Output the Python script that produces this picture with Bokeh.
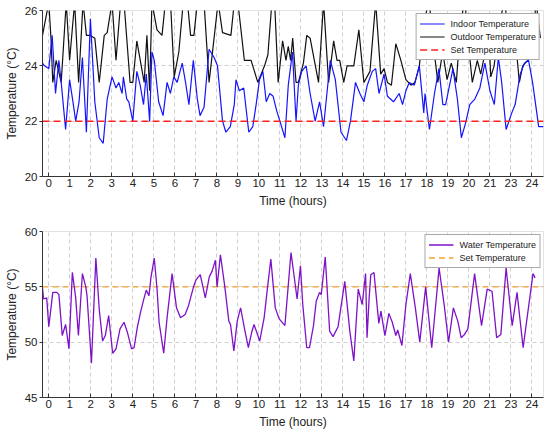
from bokeh.plotting import figure
from bokeh.layouts import column
from bokeh.models import FixedTicker, Legend, LegendItem, Range1d
from bokeh.embed import file_html
from bokeh.resources import INLINE

# ---- tick labels (x ticks at positions 0..23) ----
x_tick_pos = list(range(24))
x_tick_labels = ["0", "1", "2", "3", "4", "5", "6", "7", "8", "9", "10", "11", "12",
                 "13", "14", "15", "16", "17", "18", "19", "20", "21", "23", "24"]

# ---- indoor temperature ----
indoor_t = [-0.3, -0.21, 0.0, 0.16, 0.32, 0.48, 0.59, 0.8, 0.99, 1.15, 1.28, 1.44, 1.6, 1.79,
            1.98, 2.19, 2.4, 2.59, 2.78, 3.01, 3.2, 3.33, 3.49, 3.55, 3.71, 3.81, 4.0, 4.19,
            4.35, 4.51, 4.64, 4.8, 4.91, 5.02, 5.23, 5.44, 5.63, 5.79, 5.95, 6.11, 6.35, 6.51,
            6.67, 6.88, 7.07, 7.2, 7.39, 7.63, 7.87, 8.03, 8.27, 8.43, 8.64, 8.83, 8.91, 9.07,
            9.28, 9.52, 9.71, 9.87, 10.03, 10.19, 10.35, 10.52, 10.68, 10.84, 11.08, 11.24,
            11.4, 11.6, 11.77, 11.88, 12.04, 12.25, 12.44, 12.68, 12.89, 13.08, 13.4, 13.64,
            13.91, 14.17, 14.36, 14.6, 14.81, 15.0, 15.16, 15.4, 15.56, 15.72, 15.96, 16.12,
            16.41, 16.68, 16.84, 17.0, 17.16, 17.4, 17.64, 17.85, 17.91, 18.12, 18.36, 18.57,
            18.76, 18.89, 19.24, 19.45, 19.64, 19.83, 20.04, 20.28, 20.52, 20.76, 21.0, 21.21,
            21.4, 21.56, 21.77, 22.04, 22.2, 22.44, 22.65, 22.84, 23.03, 23.32, 23.55]
indoor_v = [24.1, 24.0, 23.9, 25.1, 23.0, 24.2, 23.4, 21.7, 23.5, 22.7, 22.0, 22.7, 24.3, 21.6,
            25.7, 22.7, 21.4, 21.2, 22.8, 23.6, 23.2, 23.4, 23.0, 23.6, 22.8, 22.7, 22.0, 23.8,
            23.3, 22.6, 23.7, 22.0, 24.5, 24.2, 22.7, 22.2, 23.4, 23.0, 23.6, 23.4, 24.1, 23.4,
            22.6, 24.2, 22.8, 22.2, 22.5, 24.6, 24.3, 24.0, 22.0, 21.6, 21.8, 22.6, 23.5, 23.1,
            23.2, 21.6, 21.8, 22.6, 23.5, 23.8, 22.7, 23.0, 22.9, 22.4, 21.8, 21.4,
            23.3, 24.5, 22.0, 23.3, 23.8, 24.0, 23.0, 22.0, 22.7, 21.8, 24.2, 23.5,
            21.6, 21.3, 22.0, 23.4, 23.0, 22.7, 23.3, 23.8, 23.9, 23.0, 23.7, 22.9,
            22.7, 23.0, 22.6, 23.1, 23.4, 23.3, 24.0, 22.3, 23.0, 21.7, 23.0, 23.9,
            22.6, 22.6, 23.9, 22.8, 21.4, 21.9, 22.6, 22.8, 23.2, 24.1, 23.1, 22.6,
            24.3, 23.4, 21.7, 22.3, 22.6, 23.7, 24.1, 24.2, 23.4, 21.8, 21.8]

# ---- outdoor temperature ----
outdoor_t = [-0.3, 0.0, 0.11, 0.19, 0.35, 0.59, 0.83, 0.99, 1.23, 1.42, 1.63, 1.79, 1.98, 2.19,
             2.4, 2.64, 2.78, 3.01, 3.2, 3.42, 3.58, 3.87, 4.0, 4.19, 4.54, 4.67, 4.8, 4.91,
             5.15, 5.39, 5.55, 5.75, 5.97, 6.19, 6.4, 6.6, 6.75, 6.91, 7.07, 7.23, 7.39, 7.63,
             8.06, 8.27, 8.67, 8.83, 9.0, 9.31, 9.63, 9.95, 10.27, 10.43, 10.62, 10.75, 10.92,
             11.13, 11.29, 11.4, 11.51, 11.61, 11.77, 11.88, 12.12, 12.28, 12.44, 12.84, 13.08,
             13.32, 13.56, 13.72, 13.85, 14.04, 14.2, 14.52, 14.76, 15.0, 15.29, 15.56, 15.8,
             15.96, 16.12, 16.31, 16.52, 16.76, 17.0, 17.24, 17.43, 17.64, 17.85, 18.1, 18.3,
             18.52, 18.75, 18.96, 19.16, 19.4, 19.6, 19.8, 20.0, 20.16, 20.4, 20.56, 20.72,
             20.9, 21.04, 21.2, 21.45, 21.7, 21.95, 22.15, 22.4, 22.56, 22.8, 22.96, 23.2, 23.4]
outdoor_v = [25.1, 26.3, 24.9, 23.4, 24.2, 23.4, 26.3, 24.2, 26.3, 23.4, 26.3, 25.1, 25.1, 25.0,
             23.4, 25.1, 25.2, 26.3, 24.2, 26.3, 26.3, 23.4, 23.4, 24.9, 23.4, 25.1, 23.1, 26.3,
             25.3, 25.1, 26.3, 27.0, 23.6, 24.5, 26.3, 26.3, 25.1, 25.1, 26.3, 26.3, 26.3, 23.4,
             26.3, 25.2, 25.1, 26.3, 26.3, 24.2, 24.2, 23.4, 24.0, 24.4, 26.3, 26.3, 23.4,
             24.9, 24.2, 24.7, 24.2, 25.0, 23.4, 23.4, 24.1, 25.1, 25.0, 23.4, 26.3,
             23.4, 24.9, 24.2, 24.2, 23.4, 24.0, 24.0, 25.3, 23.4, 23.8, 26.3, 23.7,
             23.9, 23.4, 23.3, 24.8, 24.2, 23.5, 23.3, 23.4, 24.0, 25.5, 26.4, 24.8,
             23.4, 24.5, 23.5, 24.1, 23.4, 25.5, 26.4, 24.6, 23.4, 24.2, 23.7, 24.3,
             25.8, 23.6, 24.0, 25.6, 26.3, 24.8, 25.5, 23.4, 24.0, 24.2, 24.5, 26.3, 25.0]

set_indoor = 22.0

# ---- water temperature ----
water_t = [-0.3, -0.25, -0.1, 0.0, 0.19, 0.38, 0.48, 0.64, 0.8, 0.96, 1.12, 1.28, 1.41, 1.6,
           1.76, 1.82, 2.03, 2.24, 2.4, 2.56, 2.69, 2.85, 3.04, 3.2, 3.39, 3.58, 3.74, 3.94,
           4.06, 4.22, 4.38, 4.51, 4.64, 4.77, 4.86, 5.02, 5.15, 5.25, 5.47, 5.63, 5.87, 6.08,
           6.27, 6.49, 6.65, 6.89, 7.0, 7.21, 7.45, 7.64, 7.77, 7.93, 8.01, 8.17, 8.38, 8.57,
           8.65, 8.81, 8.97, 9.13, 9.34, 9.5, 9.66, 9.77, 10.04, 10.25, 10.41, 10.57, 10.78,
           10.97, 11.24, 11.53, 11.69, 11.82, 11.98, 12.09, 12.28, 12.41, 12.6, 12.73, 12.89,
           12.97, 13.16, 13.37, 13.53, 13.77, 13.88, 14.09, 14.33, 14.52, 14.73, 14.92, 15.08,
           15.15, 15.25, 15.33, 15.48, 15.71, 15.81, 16.0, 16.19, 16.35, 16.52, 16.61, 16.81,
           17.0, 17.21, 17.45, 17.66, 17.94, 18.23, 18.58, 18.82, 19.03, 19.26, 19.47, 19.63,
           19.79, 19.95, 20.27, 20.6, 20.87, 21.1, 21.32, 21.52, 21.77, 22.06, 22.29, 22.58,
           23.05, 23.15]
water_v = [54.9, 53.9, 54.0, 51.4, 54.5, 54.5, 54.3, 50.6, 51.6, 49.4, 56.3, 54.0, 50.6, 56.2,
           55.0, 54.2, 48.1, 57.6, 53.0, 50.1, 50.6, 52.4, 49.0, 49.4, 51.2, 51.8, 50.9, 49.4,
           49.5, 51.4, 52.8, 53.8, 54.7, 54.2, 55.8, 57.6, 54.9, 51.8, 49.0, 52.2, 56.2, 53.1,
           52.2, 52.5, 53.3, 55.0, 55.6, 56.1, 54.0, 55.9, 56.4, 57.4, 55.0, 57.9, 55.0, 51.9,
           51.6, 49.2, 51.9, 53.1, 51.0, 49.5, 50.9, 51.6, 50.1, 52.2, 54.9, 57.5, 53.1,
           52.1, 51.5, 58.1, 55.8, 53.9, 56.9, 53.4, 49.5, 49.5, 51.5, 53.7, 54.5,
           54.3, 57.7, 51.0, 50.5, 51.4, 52.8, 55.5, 51.0, 48.3, 54.8, 53.4, 56.2,
           50.4, 54.0, 56.1, 56.3, 51.7, 52.8, 50.6, 52.6, 51.8, 50.6, 51.1, 49.7,
           53.4, 56.2, 53.1, 50.0, 55.0, 49.5, 56.7, 53.4, 50.0, 53.1, 51.9, 50.4,
           50.7, 51.2, 56.2, 51.5, 54.8, 54.6, 50.4, 50.7, 56.7, 51.5, 54.5, 49.5,
           56.2, 55.8]

set_water = 55.0

top_yticks = [20, 22, 24, 26]
bottom_yticks = [45, 50, 55, 60]

FONT = "Liberation Sans"
X_START, X_END = -0.3, 23.55


def style(p, yticks):
    p.background_fill_color = "white"
    p.border_fill_color = "white"
    p.outline_line_color = "#e3e3e3"
    p.xaxis.ticker = FixedTicker(ticks=x_tick_pos)
    p.xaxis.major_label_overrides = {i: s for i, s in zip(x_tick_pos, x_tick_labels)}
    p.yaxis.ticker = FixedTicker(ticks=yticks)
    for ax in (p.xaxis[0], p.yaxis[0]):
        ax.axis_line_color = "#333333"
        ax.major_tick_line_color = "#333333"
        ax.minor_tick_line_color = None
        ax.major_label_text_font = FONT
        ax.major_label_text_font_size = "11.5px"
        ax.major_label_text_color = "#222222"
        ax.axis_label_text_font = FONT
        ax.axis_label_text_font_size = "12px"
        ax.axis_label_text_font_style = "normal"
        ax.axis_label_text_color = "#222222"
    p.xaxis.major_tick_in = 4
    p.xaxis.major_tick_out = 0
    p.yaxis.major_tick_in = 0
    p.yaxis.major_tick_out = 3
    p.xaxis.major_label_standoff = 2
    p.xaxis.axis_label_standoff = 4
    p.yaxis.major_label_standoff = 2
    p.yaxis.axis_label_standoff = 3
    p.xaxis.axis_label = "Time (hours)"
    p.yaxis.axis_label = "Temperature (°C)"
    for g in (p.xgrid[0], p.ygrid[0]):
        g.grid_line_color = "#cfcfcf"
        g.grid_line_dash = "4 3"
        g.grid_line_width = 1


def make_legend(items):
    lg = Legend(items=items, location="top_right")
    lg.margin = 3
    lg.padding = 3
    lg.spacing = 0
    lg.label_height = 13
    lg.glyph_height = 13
    lg.glyph_width = 25
    lg.label_standoff = 6
    lg.label_text_font = FONT
    lg.label_text_font_size = "9px"
    lg.label_text_color = "#222222"
    lg.border_line_color = "#555555"
    lg.border_line_width = 1
    lg.background_fill_color = "white"
    lg.background_fill_alpha = 1.0
    return lg


xr = Range1d(X_START, X_END)

p1 = figure(width=548, height=216, x_range=xr, y_range=Range1d(20, 26),
            output_backend="svg", toolbar_location=None,
            min_border_top=10, min_border_bottom=40, min_border_left=42, min_border_right=5)
style(p1, top_yticks)
r_out = p1.line(outdoor_t, outdoor_v, line_color="#111111", line_width=1.2)
r_in = p1.line(indoor_t, indoor_v, line_color="#1414ff", line_width=1.2)
r_set1 = p1.line([X_START, X_END], [set_indoor, set_indoor], line_color="#ff2020",
                 line_width=1.5, line_dash="7 4")
p1.add_layout(make_legend([
    LegendItem(label="Indoor Temperature", renderers=[r_in]),
    LegendItem(label="Outdoor Temperature", renderers=[r_out]),
    LegendItem(label="Set Temperature", renderers=[r_set1]),
]))

p2 = figure(width=548, height=215, x_range=xr, y_range=Range1d(45, 60),
            output_backend="svg", toolbar_location=None,
            min_border_top=15, min_border_bottom=34, min_border_left=42, min_border_right=5)
style(p2, bottom_yticks)
r_set2 = p2.line([X_START, X_END], [set_water, set_water], line_color="#f5a030",
                 line_width=1.3, line_dash="6 4")
r_w = p2.line(water_t, water_v, line_color="#7d12c8", line_width=1.3)
p2.add_layout(make_legend([
    LegendItem(label="Water Temperature", renderers=[r_w]),
    LegendItem(label="Set Temperature", renderers=[r_set2]),
]))

layout = column(p1, p2, spacing=0)
open("out.html", "w").write(file_html(layout, INLINE))
